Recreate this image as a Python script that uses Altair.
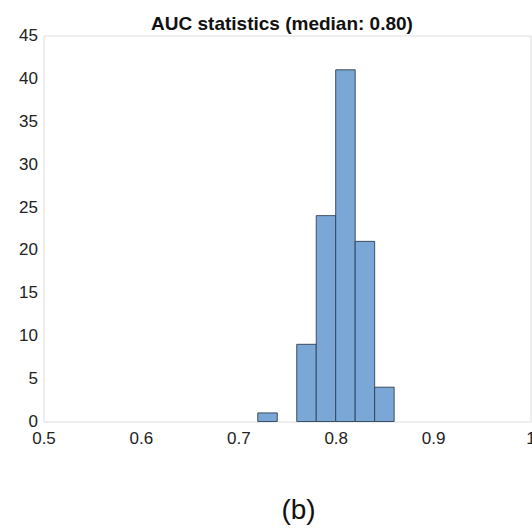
import altair as alt
import pandas as pd

bin_start = [0.72, 0.76, 0.78, 0.80, 0.82, 0.84]
bin_end = [0.74, 0.78, 0.80, 0.82, 0.84, 0.86]
counts = [1, 9, 24, 41, 21, 4]
x_ticks = [0.5, 0.6, 0.7, 0.8, 0.9, 1.0]
y_ticks = [0, 5, 10, 15, 20, 25, 30, 35, 40, 45]
title_text = "AUC statistics (median: 0.80)"
panel_label = "(b)"

df = pd.DataFrame({"start": bin_start, "end": bin_end, "count": counts,
                   "base": [0] * len(counts)})

W, H = 487, 386
FONT = "Liberation Sans"

bars = alt.Chart(df).mark_rect(
    color="#7BA7D6", stroke="#2f3f52", strokeWidth=0.9, opacity=1
).encode(
    x=alt.X("start:Q", scale=alt.Scale(domain=[0.5, 1.0], nice=False, zero=False),
            axis=alt.Axis(values=x_ticks, title=None, grid=False, tickSize=0,
                          labelPadding=9, labelFontSize=17, labelFont=FONT,
                          labelColor="#222", domain=False,
                          labelExpr="datum.value == 1 ? '1' : format(datum.value, '.1f')",
                          labelFlush=False)),
    x2="end:Q",
    y=alt.Y("count:Q", scale=alt.Scale(domain=[0, 45], nice=False),
            axis=alt.Axis(values=y_ticks, title=None, grid=False, tickSize=0,
                          labelPadding=6, labelFontSize=17, labelFont=FONT,
                          labelColor="#222", domain=False, labelFlush=False)),
    y2="base:Q",
)

title = alt.Chart(pd.DataFrame({"t": [title_text]})).mark_text(
    font=FONT, fontSize=19, fontWeight="bold", color="#111", baseline="alphabetic", align="center"
).encode(text="t:N", x=alt.value(238.5), y=alt.value(-6))

label = alt.Chart(pd.DataFrame({"t": [panel_label]})).mark_text(
    font=FONT, fontSize=28, color="#111", baseline="alphabetic", align="center"
).encode(text="t:N", x=alt.value(255), y=alt.value(483.5))

chart = alt.layer(bars, title, label).properties(
    width=W, height=H,
    autosize=alt.AutoSizeParams(type="none"),
    padding={"left": 43.5, "top": 35.5, "right": 1.5, "bottom": 106.5},
).configure_view(stroke="#a8a8a8", strokeWidth=1.2).configure(background="white")

chart.save("out.html", embed_options={"renderer": "svg", "actions": False})
